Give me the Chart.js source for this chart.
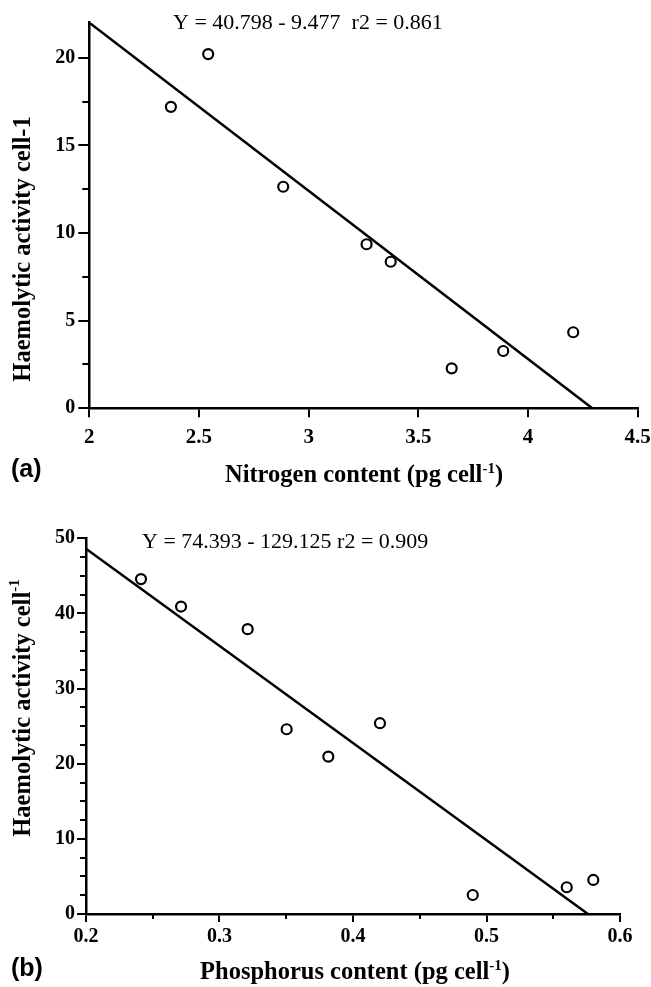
<!DOCTYPE html>
<html><head><meta charset="utf-8">
<script src="https://cdn.jsdelivr.net/npm/chart.js@4.4.1/dist/chart.umd.min.js"></script>
<style>
html,body{margin:0;padding:0;background:#fff;}
#wrap{position:relative;width:651px;height:987px;overflow:hidden;background:#fff;}
canvas{position:absolute;left:0;}
#ca{top:0;} #cb{top:490px;}
</style></head><body>
<div id="wrap"><canvas id="ca" width="651" height="490"></canvas><canvas id="cb" width="651" height="497"></canvas></div>
<script>
// ---- Panel (a) data ----
const nitrogen = [2.372, 2.542, 2.884, 3.264, 3.374, 3.652, 3.887, 4.206];
const haemA    = [17.20, 20.21, 12.64, 9.36, 8.36, 2.28, 3.27, 4.34];
const fitAx = [2.0, 4.293];
const fitAy = [22.0, 0.0];
const xTicksA = [2, 2.5, 3, 3.5, 4, 4.5];
const xTickLabelsA = ['2', '2.5', '3', '3.5', '4', '4.5'];
const yTicksA = [0, 5, 10, 15, 20];
const yTickLabelsA = ['0', '5', '10', '15', '20'];
const yMinorA = [2.5, 7.5, 12.5, 17.5];
const eqA = 'Y = 40.798 - 9.477  r2 = 0.861';

// ---- Panel (b) data ----
const phosphorus = [0.2412, 0.2712, 0.3211, 0.3503, 0.3815, 0.4202, 0.4897, 0.5601, 0.5800];
const haemB      = [44.57, 40.92, 37.91, 24.59, 20.95, 25.39, 2.53, 3.56, 4.53];
const fitBx = [0.2, 0.576];
const fitBy = [48.6, 0.0];
const xTicksB = [0.2, 0.3, 0.4, 0.5, 0.6];
const xTickLabelsB = ['0.2', '0.3', '0.4', '0.5', '0.6'];
const xMinorB = [0.25, 0.35, 0.45, 0.55];
const yTicksB = [0, 10, 20, 30, 40, 50];
const yTickLabelsB = ['0', '10', '20', '30', '40', '50'];
const yMinorB = [2.5, 5, 7.5, 12.5, 15, 17.5, 22.5, 25, 27.5, 32.5, 35, 37.5, 42.5, 45, 47.5];
const eqB = 'Y = 74.393 - 129.125 r2 = 0.909';

const SERIF = '"Liberation Serif", "Times New Roman", Times, serif';
const SANS = '"Liberation Sans", Arial, Helvetica, sans-serif';

function drawRich(ctx, parts, x, y, align) {
  let total = 0;
  parts.forEach(p => { ctx.font = p.f; p.w = ctx.measureText(p.t).width; total += p.w; });
  let cx = align === 'center' ? x - total / 2 : x;
  parts.forEach(p => { ctx.font = p.f; ctx.fillText(p.t, cx, y - (p.dy || 0)); cx += p.w; });
}

const annot = {
  id: 'annot',
  afterDraw(chart, args, o) {
    const ctx = chart.ctx;
    const ca = chart.chartArea;
    const xs = chart.scales.x, ys = chart.scales.y;
    ctx.save();
    ctx.fillStyle = '#000';
    ctx.strokeStyle = '#000';
    ctx.lineWidth = 2;
    (o.yMinor || []).forEach(v => {
      const py = Math.round(ys.getPixelForValue(v));
      ctx.beginPath(); ctx.moveTo(ca.left - o.yMinorLen, py); ctx.lineTo(ca.left, py); ctx.stroke();
    });
    (o.xMinor || []).forEach(v => {
      const px = Math.round(xs.getPixelForValue(v));
      ctx.beginPath(); ctx.moveTo(px, ca.bottom); ctx.lineTo(px, ca.bottom + o.xMinorLen); ctx.stroke();
    });
    ctx.textBaseline = 'alphabetic';
    ctx.textAlign = 'left';
    ctx.font = '22px ' + SERIF;
    ctx.fillText(o.eq, o.eqX, o.eqY);
    drawRich(ctx, o.xTitle, o.xTitleX, o.xTitleY, 'center');
    ctx.font = 'bold 25px ' + SANS;
    ctx.fillText(o.label, o.labelX, o.labelY);
    ctx.translate(o.yTitleX, o.yTitleY);
    ctx.rotate(-Math.PI / 2);
    ctx.textBaseline = 'middle';
    drawRich(ctx, o.yTitle, 0, 0, 'center');
    ctx.restore();
  }
};

function pts(xa, ya) { return xa.map((v, i) => ({ x: v, y: ya[i] })); }

function makeChart(id, cfg) {
  return new Chart(document.getElementById(id), {
    type: 'scatter',
    data: {
      datasets: [
        { data: pts(cfg.px, cfg.py), pointRadius: 5, pointHoverRadius: 5, borderWidth: 2.2,
          borderColor: '#000', backgroundColor: '#fff', pointStyle: 'circle', showLine: false, order: 1 },
        { data: pts(cfg.lx, cfg.ly), showLine: true, pointRadius: 0, borderWidth: 2.5,
          borderColor: '#000', backgroundColor: '#000', fill: false, order: 2 }
      ]
    },
    options: {
      responsive: false, animation: false, devicePixelRatio: 1,
      layout: { padding: cfg.pad },
      plugins: { legend: { display: false }, tooltip: { enabled: false }, title: { display: false },
        annot: cfg.annot },
      scales: {
        x: {
          type: 'linear', min: cfg.xmin, max: cfg.xmax,
          afterBuildTicks: s => { s.ticks = cfg.xt.map(v => ({ value: v })); },
          afterFit: s => { s.height = 40; s.paddingLeft = 0; s.paddingRight = 0; },
          ticks: { autoSkip: false, maxRotation: 0, color: '#000', padding: cfg.xPad,
            font: { family: SERIF, size: cfg.xFont, weight: 'bold' },
            callback: (v, i) => cfg.xl[i] },
          grid: { drawOnChartArea: false, drawTicks: true, tickLength: cfg.xTL, color: '#000', lineWidth: 2 },
          border: { display: true, color: '#000', width: 2.5 }
        },
        y: {
          type: 'linear', min: cfg.ymin, max: cfg.ymax,
          afterBuildTicks: s => { s.ticks = cfg.yt.map(v => ({ value: v })); },
          afterFit: s => { s.width = cfg.yW; s.paddingTop = 0; s.paddingBottom = 0; },
          ticks: { autoSkip: false, color: '#000', padding: cfg.yPad,
            font: { family: SERIF, size: 20, weight: 'bold' },
            callback: (v, i) => cfg.yl[i] },
          grid: { drawOnChartArea: false, drawTicks: true, tickLength: cfg.yTL, color: '#000', lineWidth: 2 },
          border: { display: true, color: '#000', width: 2.5 }
        }
      }
    },
    plugins: [annot]
  });
}

const BT = 'bold 24.5px ' + SERIF, BS = 'bold 15px ' + SERIF;

makeChart('ca', {
  px: nitrogen, py: haemA, lx: fitAx, ly: fitAy,
  xmin: 2, xmax: 4.5, ymin: 0, ymax: 22,
  xt: xTicksA, xl: xTickLabelsA, yt: yTicksA, yl: yTickLabelsA,
  pad: { left: 0, right: 13.3, top: 22.7, bottom: 490 - 408.3 - 40 },
  yW: 89.3, xTL: 9, yTL: 11, xPad: 8, yPad: 3, xFont: 21,
  annot: {
    yMinor: yMinorA, yMinorLen: 7, xMinor: [], xMinorLen: 0,
    eq: eqA, eqX: 173, eqY: 29,
    xTitle: [{ t: 'Nitrogen content (pg cell', f: BT }, { t: '-1', f: BS, dy: 9 }, { t: ')', f: BT }],
    xTitleX: 364, xTitleY: 482,
    label: '(a)', labelX: 11, labelY: 476.5,
    yTitle: [{ t: 'Haemolytic activity cell-1', f: BT }],
    yTitleX: 24, yTitleY: 249
  }
});

makeChart('cb', {
  px: phosphorus, py: haemB, lx: fitBx, ly: fitBy,
  xmin: 0.2, xmax: 0.6, ymin: 0, ymax: 50,
  xt: xTicksB, xl: xTickLabelsB, yt: yTicksB, yl: yTickLabelsB,
  pad: { left: 0, right: 31, top: 48.3, bottom: 497 - 424 - 40 },
  yW: 86, xTL: 8, yTL: 9, xPad: 3, yPad: 2, xFont: 20,
  annot: {
    yMinor: yMinorB, yMinorLen: 6, xMinor: xMinorB, xMinorLen: 5,
    eq: eqB, eqX: 142, eqY: 57.7,
    xTitle: [{ t: 'Phosphorus content (pg cell', f: BT }, { t: '-1', f: BS, dy: 9 }, { t: ')', f: BT }],
    xTitleX: 355, xTitleY: 489.3,
    label: '(b)', labelX: 11, labelY: 486.4,
    yTitle: [{ t: 'Haemolytic activity cell', f: BT }, { t: '-1', f: BS, dy: 9 }],
    yTitleX: 24, yTitleY: 218
  }
});
</script>
</body></html>
